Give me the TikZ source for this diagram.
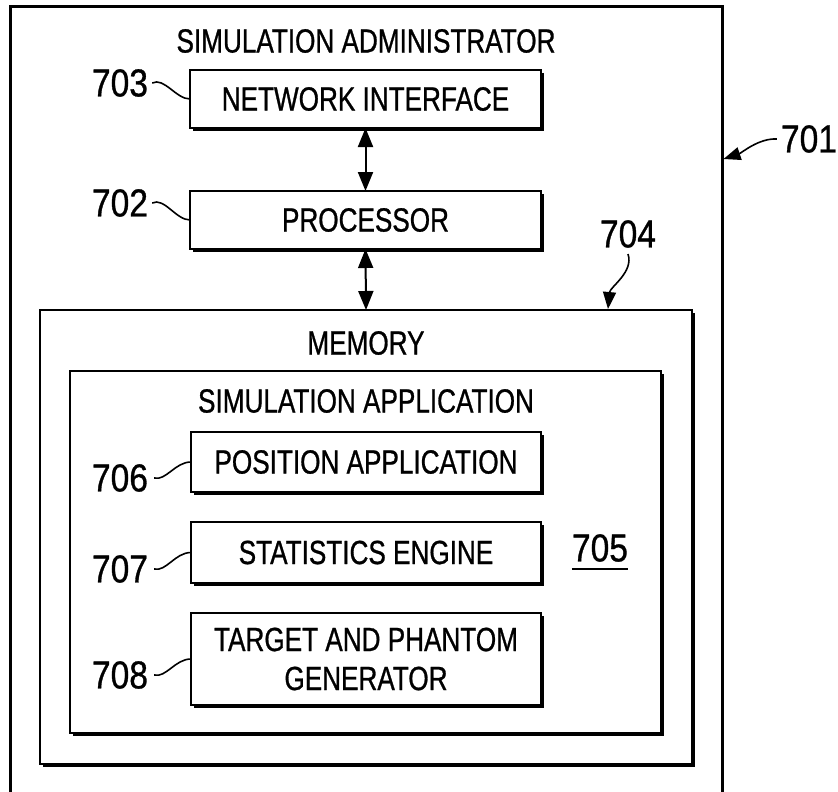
\documentclass[tikz,border=0pt]{standalone}
\usepackage{fontspec}
\setmainfont[FakeStretch=0.78,FakeBold=0.8]{Liberation Sans}
\newfontfamily\lblfont[FakeStretch=0.86,FakeBold=0.8]{Liberation Sans}
\usetikzlibrary{arrows.meta}
\begin{document}
\begin{tikzpicture}[x=1pt,y=-1pt,
  box/.style={draw, line width=2pt, outer sep=0pt, inner sep=0pt, align=center,
    font=\fontsize{33.5}{39}\selectfont},
  frame/.style={outer sep=0pt, inner sep=0pt},
  shadowline/.style={line width=2pt},
  title/.style={inner sep=0pt, font=\fontsize{33.5}{39}\selectfont},
  lbl/.style={inner sep=0pt, font=\lblfont\fontsize{39}{44}\selectfont},
  lead/.style={line width=1.6pt},
  bidir/.style={line width=2pt, {Triangle[length=19pt,width=15pt]}-{Triangle[length=19pt,width=15pt]}},
  ptr/.style={line width=1.6pt, -{Triangle[length=17pt,width=13pt]}}]
\useasboundingbox (0,0) rectangle (838,792);

% outer box (701)
\node[frame, minimum width=712pt, minimum height=800pt] (admin) at (366,407) {};
\draw[line width=3pt] (admin.south west) -- (admin.north west) -- (admin.north east) -- (admin.south east);
\node[title] (ttl) at (366,41) {SIMULATION ADMINISTRATOR};

% boxes
\node[box, minimum width=351pt, minimum height=58pt] (ni) at (365.5,99) {NETWORK INTERFACE};
\node[box, minimum width=351pt, minimum height=58pt] (proc) at (365.5,220) {PROCESSOR};
\node[box, minimum width=652pt, minimum height=454pt] (mem) at (366,537) {};
\node[title] (memlbl) at (366,343) {MEMORY};
\node[box, minimum width=591pt, minimum height=362pt] (sim) at (365.5,552) {};
\node[title] (simlbl) at (366,401) {SIMULATION APPLICATION};
\node[box, minimum width=350pt, minimum height=60pt] (pos) at (366,462) {POSITION APPLICATION};
\node[box, minimum width=350pt, minimum height=61pt] (stats) at (366,552.5) {STATISTICS ENGINE};
\node[box, minimum width=350pt, minimum height=92pt] (target) at (366,659) {TARGET AND PHANTOM\\GENERATOR};

% shadows on bottom and right edges
\foreach \n in {ni,proc,mem,sim,pos,stats,target}{
  \draw[shadowline] ([xshift=1.6pt,yshift=-3pt]\n.north east) -- ([xshift=1.6pt,yshift=-1.6pt]\n.south east) -- ([xshift=3pt,yshift=-1.6pt]\n.south west);
}

% bidirectional arrows
\draw[bidir] (ni.south) -- (proc.north);
\draw[bidir] (proc.south) -- (mem.north);

% reference labels
\node[lbl] (l703) at (120,83) {703};
\node[lbl] (l702) at (120,203) {702};
\node[lbl] (l706) at (120,478) {706};
\node[lbl] (l707) at (120,569) {707};
\node[lbl] (l708) at (120,675) {708};
\node[lbl] (l701) at (809,139) {701};
\node[lbl] (l704) at (628,234) {704};
\node[lbl] (l705) at (600,548) {705};
\draw[line width=2.2pt] ([yshift=-7pt]l705.south west) -- ([yshift=-7pt]l705.south east);

% leader lines
\draw[lead] ([xshift=4pt]l703.east) .. controls +(12,-6) and +(-14,0) .. (ni.west);
\draw[lead] ([xshift=4pt]l702.east) .. controls +(12,-6) and +(-14,0) .. (proc.west);
\draw[lead] ([xshift=6pt]l706.east) .. controls +(12,3) and +(-16,0) .. (pos.west);
\draw[lead] ([xshift=6pt]l707.east) .. controls +(12,3) and +(-16,0) .. (stats.west);
\draw[lead] ([xshift=6pt]l708.east) .. controls +(12,3) and +(-16,0) .. (target.west);

\coordinate (a701) at (723.5,159);
\coordinate (a704) at (608,309);
\draw[ptr] ([xshift=-4pt]l701.west) .. controls +(-18,-1) and +(18,-6) .. (a701);
\draw[ptr] ([yshift=-6pt]l704.south) .. controls +(6,18) and +(2,-22) .. (a704);
\end{tikzpicture}
\end{document}
